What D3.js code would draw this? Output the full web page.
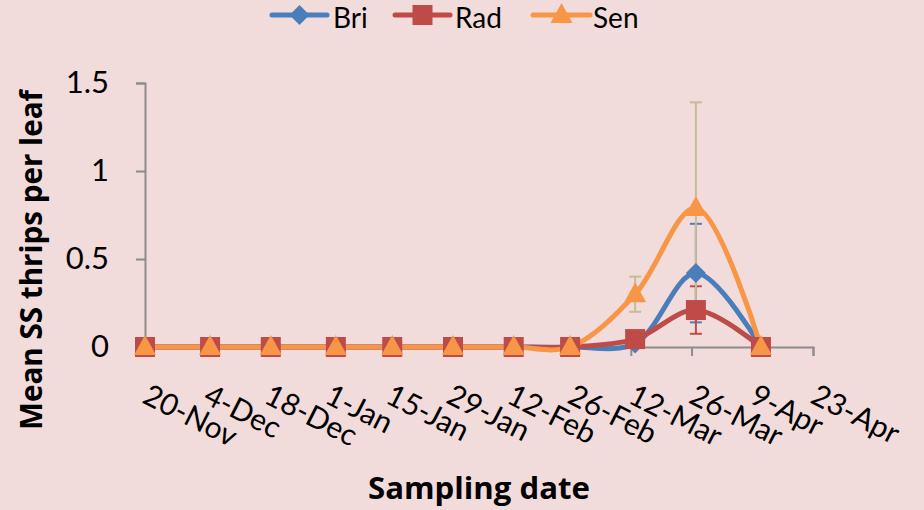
<!DOCTYPE html>
<html><head><meta charset="utf-8">
<script src="https://cdn.jsdelivr.net/npm/d3@7"></script>
<style>body{margin:0;background:#f2dcdb;}svg{display:block;}</style>
</head><body>
<svg id="chart" width="924" height="510"></svg>
<script>
// ---- data ----
const sampleDates = ["2012-11-20","2012-12-05","2012-12-19","2013-01-03","2013-01-16","2013-01-30","2013-02-13","2013-02-26","2013-03-13","2013-03-27","2013-04-11"];
const briValues = [0,0,0,0,0,0,0,0,0.02,0.42,0];
const radValues = [0,0,0,0,0,0,0,0,0.045,0.21,0];
const senValues = [0,0,0,0,0,0,0,0,0.30,0.79,0];
const briErrors = [0,0,0,0,0,0,0,0,0,0.28,0];
const radErrors = [0,0,0,0,0,0,0,0,0,0.135,0];
const senErrors = [0,0,0,0,0,0,0,0,0.10,0.60,0];
const tickDates = ["2012-11-20","2012-12-04","2012-12-18","2013-01-01","2013-01-15","2013-01-29","2013-02-12","2013-02-26","2013-03-12","2013-03-26","2013-04-09","2013-04-23"];
const tickLabels = ["20-Nov","4-Dec","18-Dec","1-Jan","15-Jan","29-Jan","12-Feb","26-Feb","12-Mar","26-Mar","9-Apr","23-Apr"];
const yTicks = [0,0.5,1,1.5];
const seriesNames = ["Bri","Rad","Sen"];

const parse = d3.timeParse("%Y-%m-%d");
const series = [
  {name:seriesNames[0], values:briValues, errors:briErrors, color:"#4a7ebb", errColor:"#4a7ebb", marker:"diamond"},
  {name:seriesNames[1], values:radValues, errors:radErrors, color:"#be4b48", errColor:"#be4b48", marker:"square"},
  {name:seriesNames[2], values:senValues, errors:senErrors, color:"#f79646", errColor:"#c4bd97", marker:"triangle"}
];

const svg = d3.select("#chart");
const FONT = "Lato, 'Open Sans', sans-serif";
const TITLE_FONT = "'Open Sans', Lato, sans-serif";
svg.append("rect").attr("width",924).attr("height",510).attr("fill","#f2dcdb");

const x = d3.scaleTime().domain([parse(tickDates[0]), parse(tickDates[tickDates.length-1])]).range([145, 813]);
const y = d3.scaleLinear().domain([0,1.5]).range([347, 83]);

// axes
const xAxis = d3.axisBottom(x).tickValues(tickDates.map(parse)).tickSize(9).tickFormat("");
const gx = svg.append("g").attr("transform","translate(0,347)").call(xAxis);
const yAxis = d3.axisLeft(y).tickValues(yTicks).tickSize(9).tickPadding(27).tickFormat(d3.format(""));
const gy = svg.append("g").attr("transform","translate(145,0)").call(yAxis);
[gx, gy].forEach(g => {
  g.select(".domain").attr("stroke","#8c8c8c").attr("stroke-width",2);
  g.selectAll(".tick line").attr("stroke","#8c8c8c").attr("stroke-width",2);
});
gy.selectAll(".tick text").attr("font-family",FONT).attr("font-size",31).attr("fill","#000");

// x tick labels rotated
svg.append("g").selectAll("text").data(tickDates).join("text")
  .attr("transform",(d,i)=>`translate(${x(parse(d))-4},402) rotate(27)`)
  .attr("font-family",FONT).attr("font-size",30).attr("fill","#000")
  .text((d,i)=>tickLabels[i]);

// axis titles (fit to the reference's text widths)
function fitText(sel, target){
  const w = sel.node().getComputedTextLength();
  const fs = parseFloat(sel.attr("font-size"));
  sel.attr("font-size", fs*target/w);
}
const xt = svg.append("text").attr("x",479).attr("y",499).attr("text-anchor","middle")
  .attr("font-family",TITLE_FONT).attr("font-weight","bold").attr("font-size",28).text("Sampling date");
fitText(xt, 222);
const yt = svg.append("text").attr("transform","translate(42,260) rotate(-90)").attr("text-anchor","middle")
  .attr("font-family",TITLE_FONT).attr("font-weight","bold").attr("font-size",28).text("Mean SS thrips per leaf");
fitText(yt, 340);

// error bars
const capW = 6;
series.forEach(s => {
  const g = svg.append("g");
  s.values.forEach((v,i) => {
    const e = s.errors[i];
    if (!e) return;
    const cx = x(parse(sampleDates[i]));
    const y1 = y(v+e), y0 = y(Math.max(0,v-e));
    g.append("line").attr("x1",cx).attr("x2",cx).attr("y1",y1).attr("y2",y0).attr("stroke",s.errColor).attr("stroke-width",2);
    [y1,y0].forEach(yy => g.append("line").attr("x1",cx-capW).attr("x2",cx+capW).attr("y1",yy).attr("y2",yy).attr("stroke",s.errColor).attr("stroke-width",2));
  });
});

// lines (smoothed)
const line = d3.line().x((d,i)=>x(parse(sampleDates[i]))).y(d=>y(d)).curve(d3.curveCatmullRom.alpha(0.5));
series.forEach(s => {
  svg.append("path").datum(s.values).attr("d",line).attr("fill","none")
    .attr("stroke",s.color).attr("stroke-width",5).attr("stroke-linejoin","round");
});

// markers
function markerPath(type){
  if (type==="diamond") return "M0,-10L10,0L0,10L-10,0Z";
  if (type==="square") return "M-10,-10H10V10H-10Z";
  return "M0,-12L11,8H-11Z";
}
series.forEach(s => {
  svg.append("g").selectAll("path").data(s.values).join("path")
    .attr("transform",(d,i)=>`translate(${x(parse(sampleDates[i]))},${y(d)})`)
    .attr("d",markerPath(s.marker)).attr("fill",s.color);
});

// legend
const legendItems = [{x0:272,x1:327,tx:333},{x0:395,x1:450,tx:455},{x0:533,x1:590,tx:593}];
series.forEach((s,i) => {
  const L = legendItems[i];
  const g = svg.append("g");
  g.append("line").attr("x1",L.x0).attr("x2",L.x1).attr("y1",15).attr("y2",15).attr("stroke",s.color).attr("stroke-width",5).attr("stroke-linecap","round");
  g.append("path").attr("transform",`translate(${(L.x0+L.x1)/2},15)`).attr("d",markerPath(s.marker)).attr("fill",s.color);
  g.append("text").attr("x",L.tx).attr("y",28).attr("font-family",FONT).attr("font-size",28).attr("fill","#000").text(s.name);
});
</script>
</body></html>
